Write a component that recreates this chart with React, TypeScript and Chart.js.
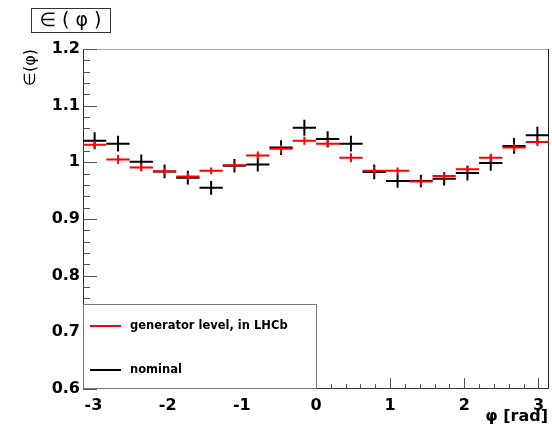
import React, { useEffect, useRef } from "react";
import { Chart, registerables } from "chart.js";

Chart.register(...registerables);

// bin centres in phi [rad] (20 bins over -pi..pi)
const binCenters = [
  -2.985, -2.670, -2.356, -2.042, -1.728, -1.414, -1.100, -0.785, -0.471, -0.157,
  0.157, 0.471, 0.785, 1.100, 1.414, 1.728, 2.042, 2.356, 2.670, 2.985,
];
const binHalfWidth = 0.157;

const generatorValues = [
  1.031, 1.005, 0.991, 0.984, 0.975, 0.985, 0.995, 1.012, 1.024, 1.038,
  1.033, 1.008, 0.985, 0.985, 0.966, 0.976, 0.988, 1.008, 1.026, 1.036,
];
const generatorErrors = [
  0.007, 0.008, 0.007, 0.006, 0.006, 0.006, 0.006, 0.007, 0.007, 0.007,
  0.007, 0.008, 0.007, 0.006, 0.006, 0.006, 0.006, 0.007, 0.007, 0.007,
];
const nominalValues = [
  1.038, 1.033, 1.001, 0.984, 0.973, 0.955, 0.994, 0.996, 1.026, 1.061,
  1.041, 1.033, 0.983, 0.967, 0.967, 0.971, 0.981, 0.999, 1.029, 1.048,
];
const nominalErrors = [
  0.015, 0.014, 0.013, 0.012, 0.012, 0.012, 0.012, 0.012, 0.013, 0.014,
  0.014, 0.014, 0.013, 0.012, 0.011, 0.012, 0.013, 0.014, 0.014, 0.015,
];

const xTickValues = [-3, -2, -1, 0, 1, 2, 3];
const yTickLabels = ["0.6", "0.7", "0.8", "0.9", "1", "1.1", "1.2"];

const titleText = "∈ ( φ )";
const yTitle = "∈(φ)";
const xTitle = "φ [rad]";
const legendLabels = ["generator level, in LHCb", "nominal"];

const FONT = "DejaVu Sans";

function crosses(values: number[], errors: number[]) {
  const pts: { x: number; y: number | null }[] = [];
  values.forEach((v, i) => {
    const c = binCenters[i];
    pts.push({ x: c - binHalfWidth, y: v });
    pts.push({ x: c + binHalfWidth, y: v });
    pts.push({ x: c, y: null });
    pts.push({ x: c, y: v - errors[i] });
    pts.push({ x: c, y: v + errors[i] });
    pts.push({ x: c, y: null });
  });
  return pts;
}

const rootPlugin = {
  id: "rootStyle",
  beforeDatasetsDraw(chart: any) {
    const { ctx, chartArea: a, scales } = chart;
    const xs = scales.x;
    const ys = scales.y;
    ctx.save();
    // frame
    ctx.lineWidth = 1;
    ctx.strokeStyle = "#aaaaaa";
    ctx.beginPath();
    ctx.moveTo(a.left, a.top + 0.5);
    ctx.lineTo(a.right, a.top + 0.5);
    ctx.stroke();
    ctx.strokeStyle = "#222222";
    ctx.beginPath();
    ctx.moveTo(a.right - 0.5, a.top);
    ctx.lineTo(a.right - 0.5, a.bottom);
    ctx.stroke();
    // axes
    ctx.strokeStyle = "#333333";
    ctx.beginPath();
    ctx.moveTo(a.left + 0.5, a.top);
    ctx.lineTo(a.left + 0.5, a.bottom);
    ctx.moveTo(a.left, a.bottom - 0.5);
    ctx.lineTo(a.right, a.bottom - 0.5);
    ctx.stroke();
    // y ticks
    ctx.strokeStyle = "#555555";
    ctx.beginPath();
    for (let k = 0; k <= 30; k++) {
      const v = 0.6 + k * 0.02;
      const py = Math.round(ys.getPixelForValue(v)) + 0.5;
      const len = k % 5 === 0 ? 14 : 7;
      ctx.moveTo(a.left, py);
      ctx.lineTo(a.left + len, py);
    }
    // x ticks
    for (let k = -15; k <= 15; k++) {
      const v = k * 0.2;
      const px = Math.round(xs.getPixelForValue(v)) + 0.5;
      const len = k % 5 === 0 ? 11 : 5;
      ctx.moveTo(px, a.bottom);
      ctx.lineTo(px, a.bottom - len);
    }
    ctx.stroke();
    ctx.restore();
  },
  afterDatasetsDraw(chart: any) {
    const { ctx, chartArea: a, scales } = chart;
    const x0 = Math.round(scales.x.getPixelForValue(0));
    ctx.save();
    // legend box
    const top = 304;
    ctx.fillStyle = "#ffffff";
    ctx.fillRect(a.left, top, x0 - a.left, a.bottom - top);
    ctx.strokeStyle = "#777777";
    ctx.lineWidth = 1;
    ctx.strokeRect(a.left + 0.5, top + 0.5, x0 - a.left, a.bottom - top - 1);
    const rows = [326, 370];
    const colors = ["#ff0000", "#000000"];
    ctx.font = `bold 11.5px ${FONT}`;
    ctx.textBaseline = "middle";
    ctx.textAlign = "left";
    rows.forEach((ry, i) => {
      ctx.strokeStyle = colors[i];
      ctx.lineWidth = 2;
      ctx.beginPath();
      ctx.moveTo(a.left + 7, ry);
      ctx.lineTo(a.left + 38, ry);
      ctx.stroke();
      ctx.fillStyle = "#000000";
      ctx.fillText(legendLabels[i], a.left + 47, ry);
    });
    ctx.restore();
  },
  afterDraw(chart: any) {
    const { ctx, chartArea: a } = chart;
    ctx.save();
    // title box
    ctx.fillStyle = "#ffffff";
    ctx.fillRect(31, 8, 79, 24);
    ctx.strokeStyle = "#333333";
    ctx.lineWidth = 1;
    ctx.strokeRect(31.5, 8.5, 79, 24);
    ctx.fillStyle = "#000000";
    ctx.font = `19px ${FONT}`;
    ctx.textAlign = "center";
    ctx.textBaseline = "middle";
    ctx.fillText(titleText, 70.5, 21);
    // y title
    ctx.save();
    ctx.translate(31, a.top);
    ctx.rotate(-Math.PI / 2);
    ctx.font = `16px ${FONT}`;
    ctx.textAlign = "right";
    ctx.textBaseline = "middle";
    ctx.fillText(yTitle, 0, 0);
    ctx.restore();
    // x title
    ctx.font = `bold 16px ${FONT}`;
    ctx.textAlign = "right";
    ctx.textBaseline = "alphabetic";
    ctx.fillText(xTitle, a.right - 1, 421);
    ctx.restore();
  },
};

export default function App() {
  const ref = useRef<HTMLCanvasElement | null>(null);
  useEffect(() => {
    document.body.style.margin = "0";
    const canvas = ref.current!;
    const chart = new Chart(canvas, {
      type: "line",
      data: {
        datasets: [
          {
            label: legendLabels[0],
            data: crosses(generatorValues, generatorErrors) as any,
            borderColor: "#ff0000",
            borderWidth: 2,
            pointRadius: 0,
            spanGaps: false,
            tension: 0,
            borderCapStyle: "butt",
          },
          {
            label: legendLabels[1],
            data: crosses(nominalValues, nominalErrors) as any,
            borderColor: "#000000",
            borderWidth: 2,
            pointRadius: 0,
            spanGaps: false,
            tension: 0,
            borderCapStyle: "butt",
          },
        ],
      },
      options: {
        animation: false,
        responsive: false,
        devicePixelRatio: 1,
        layout: { padding: { top: 49, right: 3, left: 0, bottom: 0 } },
        plugins: { legend: { display: false }, tooltip: { enabled: false } },
        scales: {
          x: {
            type: "linear",
            min: -Math.PI,
            max: Math.PI,
            grid: { display: false, drawTicks: false },
            border: { display: false },
            afterBuildTicks: (s: any) => {
              s.ticks = xTickValues.map((v) => ({ value: v }));
            },
            afterFit: (s: any) => {
              s.height = 38;
            },
            ticks: {
              color: "#000000",
              padding: 7,
              maxRotation: 0,
              autoSkip: false,
              font: { family: FONT, size: 16, weight: "bold" },
              callback: (v: any) => String(v),
            },
          },
          y: {
            type: "linear",
            min: 0.6,
            max: 1.2,
            grid: { display: false, drawTicks: false },
            border: { display: false },
            afterBuildTicks: (s: any) => {
              s.ticks = yTickLabels.map((t) => ({ value: parseFloat(t) }));
            },
            afterFit: (s: any) => {
              s.width = 83;
            },
            ticks: {
              color: "#000000",
              padding: 3,
              font: { family: FONT, size: 16, weight: "bold" },
              callback: (v: any) => {
                const t = yTickLabels.find((l) => Math.abs(parseFloat(l) - v) < 1e-6);
                return t ?? "";
              },
            },
          },
        },
      },
      plugins: [rootPlugin],
    });
    return () => chart.destroy();
  }, []);
  return (
    <div style={{ position: "absolute", left: 0, top: 0, width: 552, height: 427 }}>
      <canvas ref={ref} width={552} height={427} style={{ display: "block" }} />
    </div>
  );
}
